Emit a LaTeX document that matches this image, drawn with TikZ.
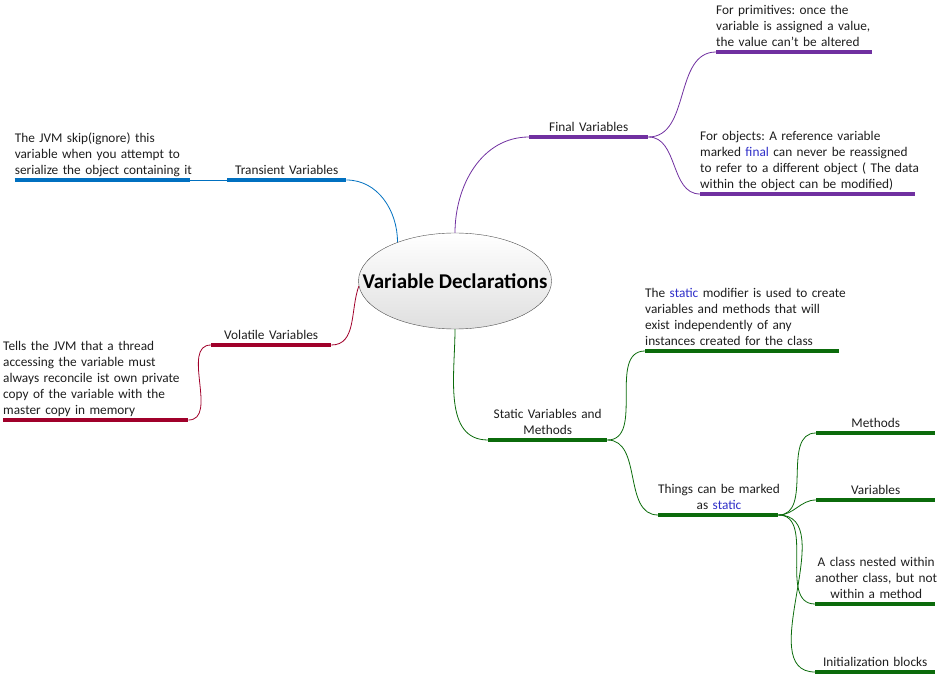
\documentclass[tikz,border=0pt]{standalone}
\usepackage{fontspec}
\setmainfont{Carlito}
\usepackage{tikz}
\usetikzlibrary{positioning,shapes.geometric}
\definecolor{TransBlue}{HTML}{0070C0}
\definecolor{FinalPurple}{HTML}{7030A0}
\definecolor{VolRed}{HTML}{A0002A}
\definecolor{StatGreen}{HTML}{0B6B0B}
\definecolor{KeyBlue}{HTML}{2E2EC8}
\definecolor{InkGray}{HTML}{1E1E1E}
\newcommand{\kw}[1]{\textcolor{KeyBlue}{#1}}
\newcommand{\ltxt}[1]{\begin{tabular}{@{}l@{}}#1\end{tabular}}
\newcommand{\ctxt}[1]{\begin{tabular}{@{}c@{}}#1\end{tabular}}
\frenchspacing

\begin{document}
\begin{tikzpicture}[x=1pt,y=-1pt,font=\fontsize{13.3}{16}\selectfont,text=InkGray,
root/.style={ellipse,draw=gray!60!black,top color=white,bottom color=gray!25,minimum width=193pt,minimum height=96pt,inner sep=0pt,font=\fontsize{21}{24}\selectfont\bfseries,text=black},
topic/.style={inner xsep=0pt,inner ysep=0.3pt,text width=#1,align=center,anchor=south west},
note/.style={topic=#1,align=left},
bar/.style={draw=#1,line width=4pt},
link/.style={draw=#1,line width=0.8pt}]
\useasboundingbox (0,0) rectangle (940,676);
\node[root] (vd) at (455,281) {\makebox[0pt]{Variable Declarations}};
% left side
\node[topic=119pt] (trans) at (227,180) {\ctxt{Transient Variables}};
\node[note=175pt,left=37pt of trans.south west,anchor=south east] (transnote) {\ltxt{The JVM skip(ignore) this\\variable when you attempt to\\serialize the object containing it}};
\node[topic=120pt] (vol) at (211,345) {\ctxt{Volatile Variables}};
\node[note=185pt] (volnote) at (3,420) {\ltxt{Tells the JVM that a thread\\accessing the variable must\\always reconcile ist own private\\copy of the variable with the\\master copy in memory}};
% right side
\node[topic=119pt] (final) at (529,137) {\ctxt{Final Variables}};
\node[note=156pt] (prim) at (716,52) {\ltxt{For primitives: once the\\variable is assigned a value,\\the value can't be altered}};
\node[note=215pt] (obj) at (700,194) {\ltxt{For objects: A reference variable\\marked \kw{final} can never be reassigned\\to refer to a different object ( The data\\within the object can be modified)}};
\node[topic=119pt] (static) at (488,440) {\ctxt{Static Variables and\\Methods}};
\node[note=194pt] (statnote) at (645,351) {\ltxt{The \kw{static} modifier is used to create\\variables and methods that will\\exist independently of any\\instances created for the class}};
\node[topic=120pt] (marked) at (658,515) {\ctxt{Things can be marked\\as \kw{static}}};
\node[topic=119pt] (meth) at (816,433) {\ctxt{Methods}};
\node[topic=119pt] (vars) at (816,500) {\ctxt{Variables}};
\node[topic=120pt] (nested) at (815,604) {\ctxt{A class nested within\\another class, but not\\within a method}};
\node[topic=120pt] (init) at (815,672) {\ctxt{Initialization blocks}};
% connectors
\draw[link=TransBlue] (vd.146) to[out=90,in=0] (trans.south east);
\draw[link=TransBlue] (transnote.south east) -- (trans.south west);
\draw[link=VolRed] (vd.183) to[out=250,in=0] (vol.south east);
\draw[link=VolRed] (vol.south west) to[out=180,in=0] (volnote.south east);
\draw[link=FinalPurple] (vd.north) to[out=90,in=180] (final.south west);
\draw[link=FinalPurple] (final.south east) to[out=0,in=180] (prim.south west);
\draw[link=FinalPurple] (final.south east) to[out=0,in=180] (obj.south west);
\draw[link=StatGreen] (vd.south) to[out=-90,in=180] (static.south west);
\draw[link=StatGreen] (static.south east) to[out=0,in=180] (statnote.south west);
\draw[link=StatGreen] (static.south east) to[out=0,in=180] (marked.south west);
\foreach \n in {meth,vars,nested,init}
  \draw[link=StatGreen] (marked.south east) to[out=0,in=180] (\n.south west);
% underline bars
\foreach \n/\c in {trans/TransBlue,transnote/TransBlue,vol/VolRed,volnote/VolRed,final/FinalPurple,prim/FinalPurple,obj/FinalPurple,static/StatGreen,statnote/StatGreen,marked/StatGreen,meth/StatGreen,vars/StatGreen,nested/StatGreen,init/StatGreen}
  \draw[bar=\c] (\n.south west) -- (\n.south east);
\end{tikzpicture}
\end{document}
